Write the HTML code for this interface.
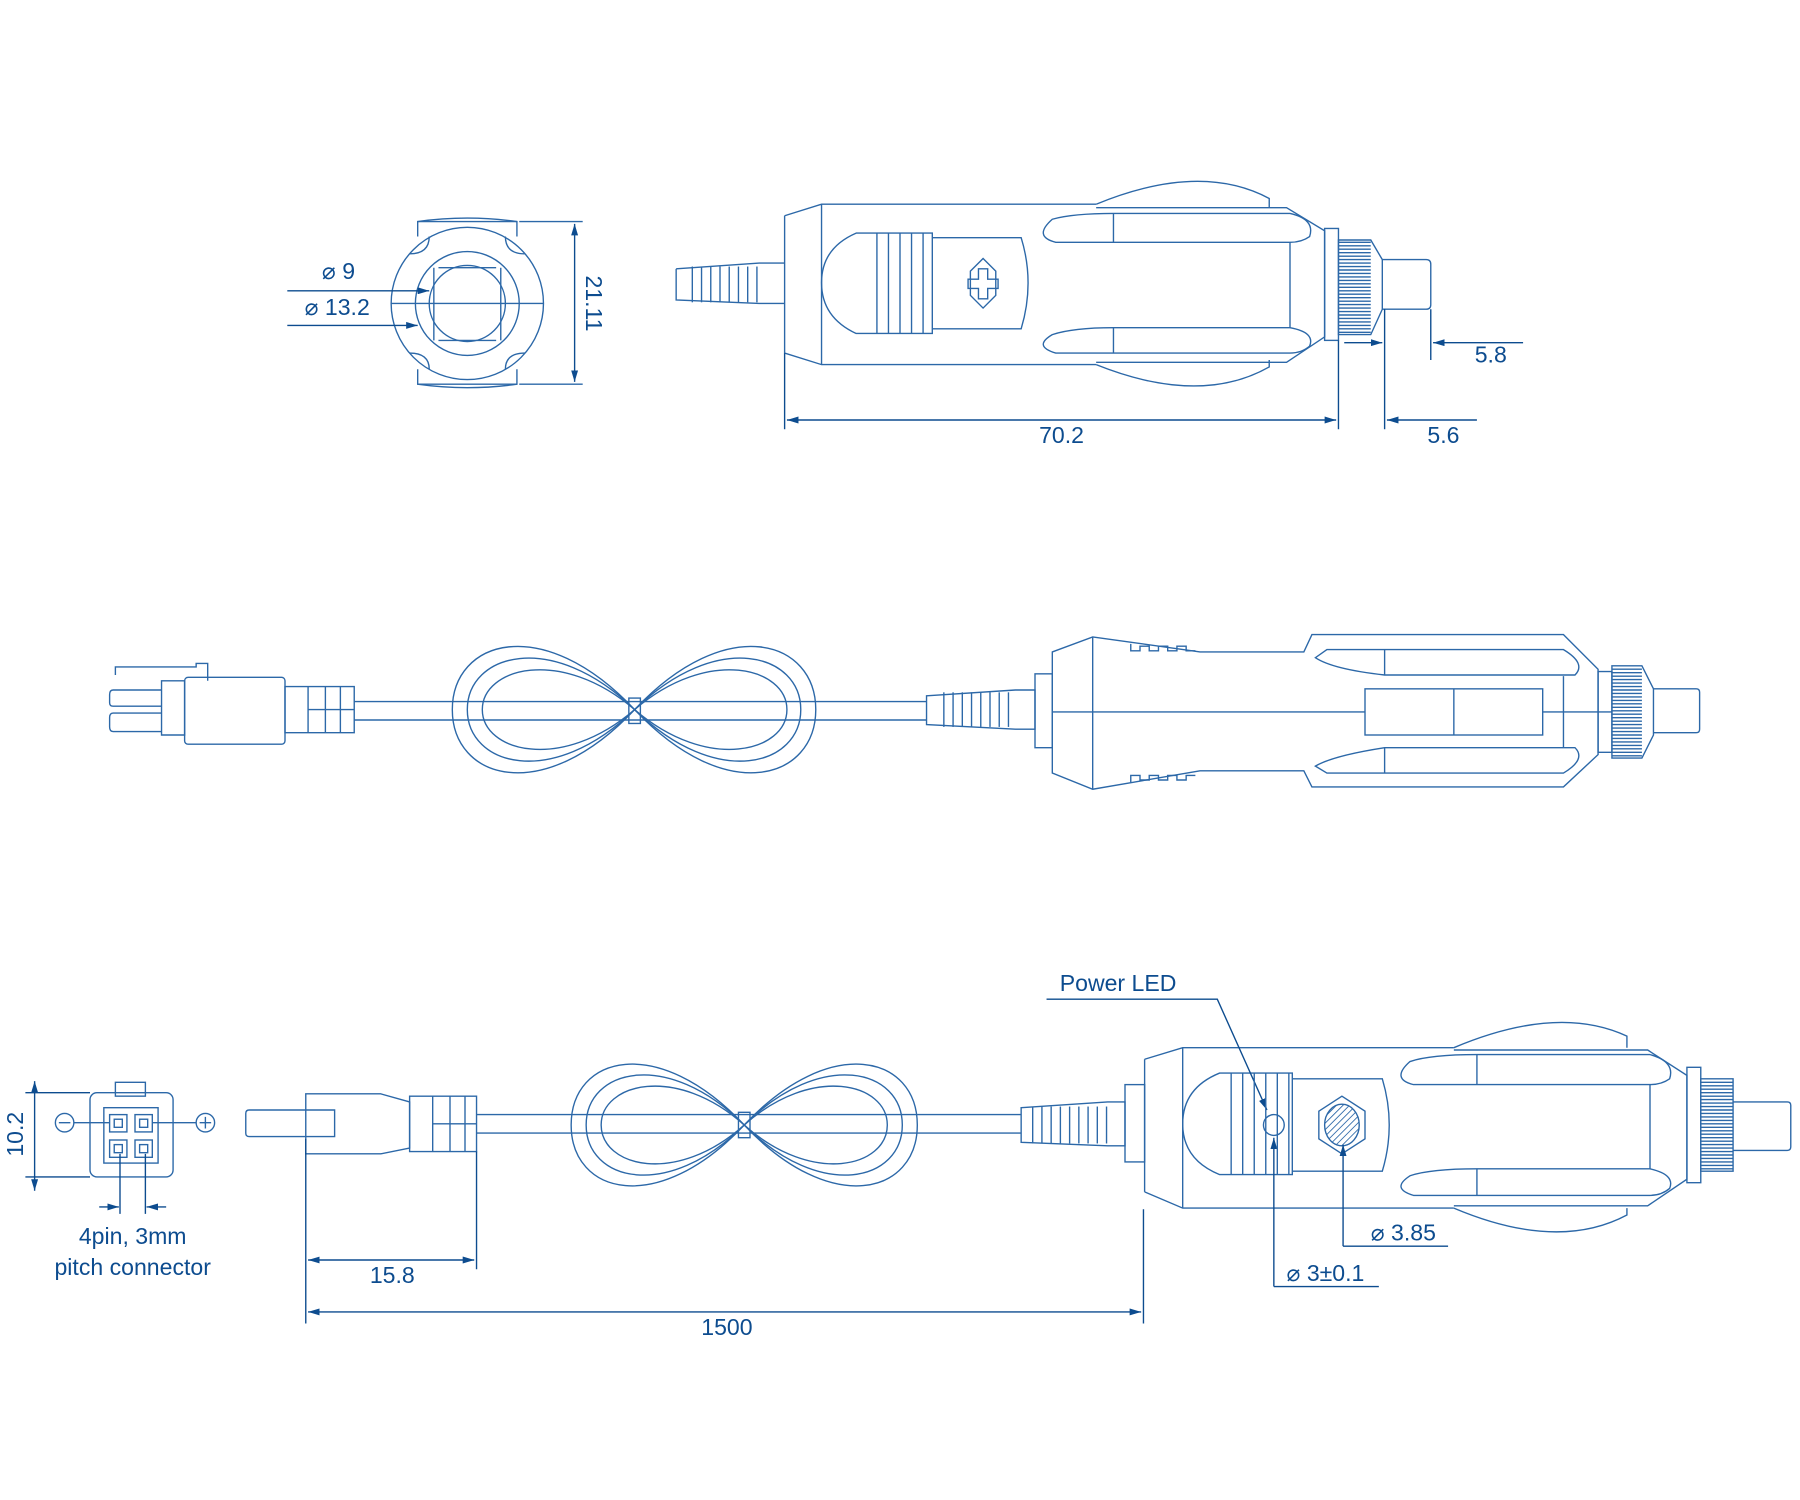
<!DOCTYPE html>
<html><head><meta charset="utf-8"><style>
html,body{margin:0;padding:0;background:#fff}
svg{display:block}
text{font-family:"Liberation Sans",sans-serif;fill:#0d4c8f;font-size:20px}
</style></head><body>
<svg id="s" width="1800" height="1500" viewBox="0 0 1560 1300" xmlns="http://www.w3.org/2000/svg">
<defs>
<marker id="a" viewBox="0 0 10 6" refX="10" refY="3" markerWidth="10" markerHeight="6" markerUnits="userSpaceOnUse" orient="auto-start-reverse"><path d="M0,0L10,3L0,6z" fill="#0d4c8f"/></marker>
<pattern id="h" width="4" height="4" patternUnits="userSpaceOnUse" patternTransform="rotate(45)"><line x1="0" y1="0" x2="0" y2="4" stroke="#2c68a8" stroke-width="1.5"/></pattern>
</defs>
<g id="g" fill="none" stroke="#2c68a8" stroke-width="1.2">
<!-- END VIEW -->
<circle cx="405" cy="263" r="66"/>
<circle cx="405" cy="263" r="45"/>
<circle cx="405" cy="263" r="33"/>
<path d="M362,205V192H448V205M362,320V333H448V320"/>
<path d="M362,192Q405,186 448,192M362,333Q405,339 448,333"/>
<path d="M355,220Q372,220 372,205M455,220Q438,220 438,205M355,306Q372,306 372,320M455,306Q438,306 438,320"/>
<path d="M376,232V295M434,232V295M380,232H430M380,295H430"/>
<line x1="339" y1="263" x2="471" y2="263"/>
<line x1="450" y1="192" x2="505" y2="192"/><line x1="450" y1="333" x2="505" y2="333"/>
<line x1="498" y1="194" x2="498" y2="331" stroke="#0d4c8f" marker-start="url(#a)" marker-end="url(#a)"/>
<line x1="249" y1="252" x2="372" y2="252" stroke="#0d4c8f" marker-end="url(#a)"/>
<line x1="249" y1="282" x2="362" y2="282" stroke="#0d4c8f" marker-end="url(#a)"/>

<!-- TOP PLUG -->
<path d="M586,233L658,228H680M586,233V260L658,263H680"/>
<path d="M680,187L712,177H950M680,306L712,316H950M680,187V306M712,177V316"/>
<path d="M742,202H808V289H742Q712,275 712,245Q712,215 742,202Z"/>
<path d="M808,206H885Q897,245 885,285H808"/>
<path d="M841,235L852,224L863,235V256L852,267L841,256Z"/>
<path d="M848,233h8v9h9v8h-9v9h-8v-9h-9v-8h9z"/>
<path d="M950,177Q1040,140 1100,172V180M950,316Q1040,352 1100,318V312"/>
<path d="M950,180H1115L1148,200V292L1115,314H950"/>
<path d="M965,185H1118Q1140,190 1135,205Q1128,210 1118,210H915Q895,205 912,190Q930,185 965,185Z"/>
<path d="M965,284H1118Q1140,288 1135,300Q1128,306 1118,306H915Q895,300 912,290Q930,284 965,284Z"/>
<path d="M965,185V210M965,284V306M1118,210V284"/>
<rect x="1148" y="198" width="12" height="97"/>
<path d="M1160,208H1188L1198,225V268L1188,290H1160Z"/>
<path d="M1198,225H1236Q1240,225 1240,229V264Q1240,268 1236,268H1198"/>
<g stroke="#0d4c8f">
<line x1="680" y1="306" x2="680" y2="372"/><line x1="1160" y1="295" x2="1160" y2="372"/><line x1="1200" y1="268" x2="1200" y2="372"/><line x1="1240" y1="268" x2="1240" y2="312"/>
<line x1="682" y1="364" x2="1158" y2="364" marker-start="url(#a)" marker-end="url(#a)"/>
<line x1="1280" y1="364" x2="1202" y2="364" marker-end="url(#a)"/>
<line x1="1165" y1="297" x2="1198" y2="297" marker-end="url(#a)"/>
<line x1="1320" y1="297" x2="1242" y2="297" marker-end="url(#a)"/>
</g>

<!-- MIDDLE -->
<path d="M140,598H98Q95,598 95,602V609Q95,612 98,612H140M140,618H98Q95,618 95,622V630Q95,634 98,634H140"/>
<path d="M140,590H160V637H140Z"/>
<path d="M100,585V578H170V575H180V590"/>
<rect x="160" y="587" width="87" height="58" rx="3"/>
<path d="M247,595H307V635H247ZM267,595V635M282,595V635M295,595V635M267,615H307"/>
<path d="M307,608H803M307,624H803"/>
<path d="M550,615C470,530 392,555 392,615C392,675 470,700 550,615C630,530 707,555 707,615C707,675 630,700 550,615"/>
<path d="M550,615C478,545 405,567 405,615C405,663 478,685 550,615C622,545 694,567 694,615C694,663 622,685 550,615"/>
<path d="M550,615C486,560 418,579 418,615C418,651 486,670 550,615C614,560 682,579 682,615C682,651 614,670 550,615"/>
<rect x="545" y="605" width="10" height="22"/>
<path d="M803,603L880,598H897V632H880L803,628Z"/>
<rect x="897" y="584" width="15" height="64"/>
<path d="M912,565L947,552L1040,565H1130L1137,550H1355L1385,580V654L1355,682H1137L1130,668H1040L947,684L912,670Z"/>
<path d="M947,552V684"/>
<path d="M980,558v6h8v-4h8v4h8v-4h8v4h8v-4h8v4h8M980,678v-6h8v4h8v-4h8v4h8v-4h8v4h8v-4h8"/>
<path d="M1150,563H1355Q1375,575 1365,585H1200Q1155,580 1140,570Z"/>
<path d="M1150,670H1355Q1375,658 1365,648H1200Q1155,655 1140,664Z"/>
<path d="M1200,563V585M1200,648V670M1355,586V648"/>
<rect x="1183" y="597" width="154" height="40"/><line x1="1260" y1="597" x2="1260" y2="637"/>
<line x1="912" y1="617" x2="1183" y2="617"/><line x1="1337" y1="617" x2="1397" y2="617"/>
<rect x="1385" y="582" width="12" height="70"/>
<path d="M1397,577H1423L1433,597V637L1423,657H1397Z"/>
<path d="M1433,597H1470Q1473,597 1473,600V632Q1473,635 1470,635H1433"/>

<!-- BOTTOM LEFT CONNECTOR FRONT -->
<rect x="78" y="947" width="72" height="73" rx="6"/>
<rect x="100" y="938" width="26" height="12"/>
<rect x="90" y="960" width="47" height="48"/>
<rect x="95" y="966" width="15" height="15"/><rect x="117" y="966" width="15" height="15"/>
<rect x="95" y="988" width="15" height="15"/><rect x="117" y="988" width="15" height="15"/>
<rect x="99" y="970" width="7" height="7"/><rect x="121" y="970" width="7" height="7"/><rect x="99" y="992" width="7" height="7"/><rect x="121" y="992" width="7" height="7"/>
<circle cx="56" cy="973" r="8"/><path d="M51,973h10"/>
<circle cx="178" cy="973" r="8"/><path d="M173,973h10M178,968v10"/>
<path d="M64,973H95M132,973H170"/>
<g stroke="#0d4c8f">
<path d="M22,947H78M22,1020H78M104,1000V1052M126,1000V1052"/>
<line x1="30" y1="937" x2="30" y2="1032" marker-start="url(#a)" marker-end="url(#a)"/>
<line x1="86" y1="1046" x2="103" y2="1046" marker-end="url(#a)"/>
<line x1="144" y1="1046" x2="127" y2="1046" marker-end="url(#a)"/>
</g>

<!-- BOTTOM CABLE -->
<path d="M265,962H216Q213,962 213,965V982Q213,985 216,985H265"/>
<path d="M265,962H290V985H265"/>
<path d="M265,948H330L355,955V995L330,1000H265Z"/>
<path d="M355,950H413V998H355ZM375,950V998M390,950V998M403,950V998M375,974H413"/>
<path d="M413,966H885M413,982H885"/>
<path d="M645,975C570,895 495,915 495,975C495,1035 570,1055 645,975C720,895 795,915 795,975C795,1035 720,1055 645,975"/>
<path d="M645,975C578,908 508,927 508,975C508,1023 578,1042 645,975C712,908 782,927 782,975C782,1023 712,1042 645,975"/>
<path d="M645,975C586,922 521,939 521,975C521,1011 586,1028 645,975C704,922 769,939 769,975C769,1011 704,1028 645,975"/>
<rect x="640" y="964" width="10" height="22"/>
<path d="M885,960L960,955H975V993H960L885,990Z"/>
<rect x="975" y="940" width="17" height="67"/>
<path d="M992,918L1025,908H1260M992,1033L1025,1047H1260M992,918V1033M1025,908V1047"/>
<path d="M1057,930H1120V1018H1057Q1025,1005 1025,974Q1025,943 1057,930Z"/>
<path d="M1120,935H1198Q1210,975 1198,1015H1120"/>
<path d="M1260,908Q1350,870 1410,898V908M1260,1047Q1350,1085 1410,1053V1047"/>
<path d="M1260,910H1428L1462,932V1022L1428,1045H1260"/>
<path d="M1280,914H1430Q1452,920 1447,935Q1440,940 1430,940H1225Q1205,935 1222,920Q1240,914 1280,914Z"/>
<path d="M1280,1013H1430Q1452,1018 1447,1030Q1440,1036 1430,1036H1225Q1205,1030 1222,1019Q1240,1013 1280,1013Z"/>
<path d="M1280,914V940M1280,1013V1036M1430,940V1013"/>
<rect x="1462" y="925" width="12" height="100"/>
<path d="M1474,935H1502V1015H1474Z"/>
<path d="M1502,955H1549Q1552,955 1552,958V994Q1552,997 1549,997H1502"/>
<circle cx="1104" cy="975" r="9"/>
<path d="M1143,963L1163,950L1183,963V987L1163,1000L1143,987Z"/>
<ellipse cx="1163" cy="975" rx="15" ry="18" fill="url(#h)"/>
<g stroke="#0d4c8f">
<path d="M265,987V1147M413,998V1100M991,1048V1147"/>
<line x1="267" y1="1092" x2="411" y2="1092" marker-start="url(#a)" marker-end="url(#a)"/>
<line x1="267" y1="1137" x2="989" y2="1137" marker-start="url(#a)" marker-end="url(#a)"/>
<path d="M907,866H1055L1098,962" marker-end="url(#a)"/>
<line x1="1104" y1="1115" x2="1104" y2="986" marker-end="url(#a)"/>
<path d="M1104,1115H1195"/>
<line x1="1164" y1="1080" x2="1164" y2="992" marker-end="url(#a)"/>
<path d="M1164,1080H1255"/>
</g>
</g>
<g>
<text x="279" y="242">⌀ 9</text>
<text x="264" y="273">⌀ 13.2</text>
<text transform="translate(508,263) rotate(90)" text-anchor="middle">21.11</text>
<text x="920" y="384" text-anchor="middle">70.2</text>
<text x="1251" y="384" text-anchor="middle">5.6</text>
<text x="1292" y="314" text-anchor="middle">5.8</text>
<text transform="translate(20,983) rotate(-90)" text-anchor="middle">10.2</text>
<text x="115" y="1078" text-anchor="middle">4pin, 3mm</text>
<text x="115" y="1105" text-anchor="middle">pitch connector</text>
<text x="340" y="1112" text-anchor="middle">15.8</text>
<text x="630" y="1157" text-anchor="middle">1500</text>
<text x="969" y="859" text-anchor="middle">Power LED</text>
<text x="1188" y="1075">⌀ 3.85</text>
<text x="1115" y="1110">⌀ 3±0.1</text>
</g>
</svg>
<script>
var g=document.getElementById('g'),N='http://www.w3.org/2000/svg';
function L(x1,y1,x2,y2){var l=document.createElementNS(N,'line');l.setAttribute('x1',x1);l.setAttribute('y1',y1);l.setAttribute('x2',x2);l.setAttribute('y2',y2);g.appendChild(l);}
for(var x=600;x<=656;x+=8)L(x,231,x,262);
for(var x=760;x<808;x+=10)L(x,202,x,289);
for(var y=210;y<290;y+=3)L(1160,y,1188,y);
for(var x=818;x<880;x+=8)L(x,600,x,630);
for(var y=580;y<656;y+=3)L(1397,y,1423,y);
for(var x=895;x<960;x+=8)L(x,959,x,991);
for(var x=1067;x<1120;x+=10)L(x,930,x,1018);
for(var y=938;y<1014;y+=3)L(1474,y,1502,y);
</script>
</body></html>
